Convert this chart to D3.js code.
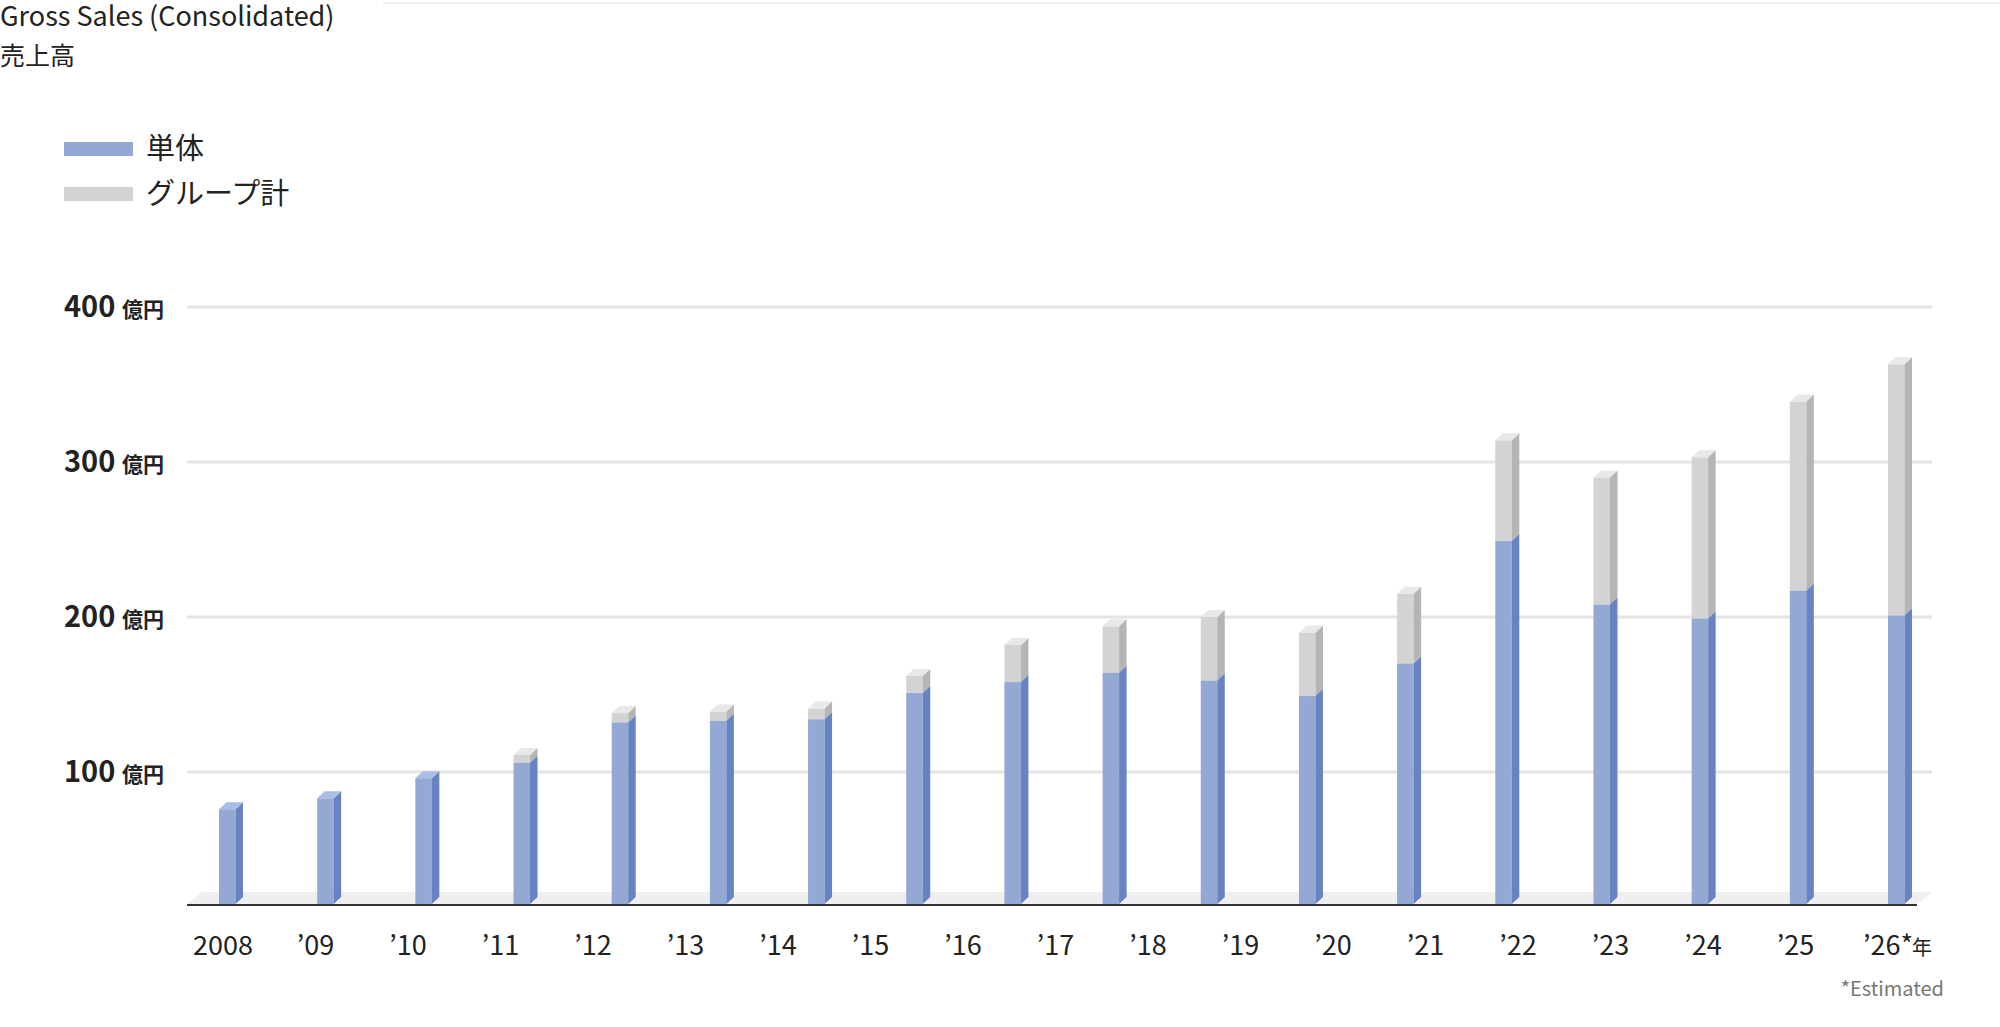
<!DOCTYPE html>
<html><head><meta charset="utf-8">
<script src="https://cdn.jsdelivr.net/npm/d3@7"></script>
<style>body{margin:0;background:#fff}text{font-family:"Noto Sans CJK JP","Noto Sans",sans-serif}</style>
</head><body><svg id="c" width="2000" height="1027"></svg>
<script>
var tickLabels = ["2008","’09","’10","’11","’12","’13","’14","’15","’16","’17","’18","’19","’20","’21","’22","’23","’24","’25","’26*"];
var standalone = [76,83,96,106,132,133,134,151,158,164,159,149,170,249,208,199,217,201];
var groupTotal = [76,83,96,111,138,139,141,162,182,194,200,190,215,314,290,303,339,363];
var yTicks = [100,200,300,400];

var svg = d3.select("#c");
var y = d3.scaleLinear().domain([0,400]).range([927,307]);
var base = 904, bw = 16.5, dx = 7.5, dy = 7;
var xb = d3.scaleLinear().domain([0,17]).range([219,1888]);
var xl = d3.scalePoint().domain(tickLabels).range([223,1888]);

// title
svg.append("line").attr("x1",383).attr("x2",2000).attr("y1",3).attr("y2",3).attr("stroke","#eee").attr("stroke-width",2);
svg.append("text").attr("x",0).attr("y",26).attr("font-size",27).attr("fill","#222").text("Gross Sales (Consolidated)");
svg.append("text").attr("x",0).attr("y",65).attr("font-size",25).attr("fill","#222").text("売上高");

// legend
[["単体","#93a8d3",149],["グループ計","#d3d3d3",194]].forEach(function(l){
  svg.append("rect").attr("x",64).attr("y",l[2]-7).attr("width",69).attr("height",14).attr("fill",l[1]);
  svg.append("text").attr("x",146).attr("y",l[2]+10).attr("font-size",29).attr("fill","#222").text(l[0]);
});

// grid
yTicks.forEach(function(t){
  svg.append("line").attr("x1",187).attr("x2",1932).attr("y1",y(t)).attr("y2",y(t)).attr("stroke","#e4e4e4").attr("stroke-width",3);
  var g = svg.append("text").attr("x",64).attr("y",y(t)+10).attr("fill","#222");
  g.append("tspan").attr("font-size",29).attr("font-weight","bold").text(t+" ");
  g.append("tspan").attr("font-size",21).attr("font-weight","bold").text("億円");
});

// floor
svg.append("polygon").attr("points",[[187,base],[1917,base],[1932,base-12],[202,base-12]].join(" ")).attr("fill","#efefef");

function bar(x, top, bottom, front, side, topc){
  svg.append("rect").attr("x",x).attr("y",top).attr("width",bw).attr("height",bottom-top).attr("fill",front);
  svg.append("polygon").attr("points",[[x+bw,top],[x+bw+dx,top-dy],[x+bw+dx,bottom-dy],[x+bw,bottom]].join(" ")).attr("fill",side);
  if(topc) svg.append("polygon").attr("points",[[x,top],[x+dx,top-dy],[x+bw+dx,top-dy],[x+bw,top]].join(" ")).attr("fill",topc);
}
standalone.forEach(function(v,i){
  var x = xb(i);
  var g = groupTotal[i];
  if(g > v) bar(x, y(g), y(v), "#d3d3d3", "#b5b5b5", "#e8e8e8");
  bar(x, y(v), base, "#93a8d3", "#6783c2", g > v ? null : "#a9bde6");
});

svg.append("line").attr("x1",187).attr("x2",1917).attr("y1",base+1).attr("y2",base+1).attr("stroke","#333").attr("stroke-width",2);

tickLabels.forEach(function(t){
  svg.append("text").attr("x",xl(t)).attr("y",955).attr("text-anchor","middle").attr("font-size",27).attr("fill","#222").text(t);
});
svg.append("text").attr("x",1912).attr("y",955).attr("font-size",20).attr("fill","#222").text("年");
svg.append("text").attr("x",1944).attr("y",996).attr("text-anchor","end").attr("font-size",20).attr("fill","#777").text("*Estimated");
</script></body></html>
